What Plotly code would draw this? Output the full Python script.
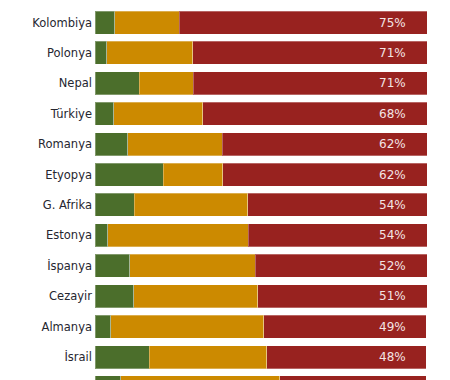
import plotly.graph_objects as go

countries = ["Kolombiya", "Polonya", "Nepal", "Türkiye", "Romanya", "Etyopya",
             "G. Afrika", "Estonya", "İspanya", "Cezayir", "Almanya", "İsrail", "Diğer"]
green = [6, 3.6, 13.3, 5.7, 9.9, 20.5, 11.8, 3.9, 10.5, 11.6, 4.8, 16.3, 7.8]
orange = [19.3, 25.9, 16.3, 26.8, 28.5, 18, 34.2, 42.2, 37.7, 37.4, 46, 35.5, 47.9]
red = [75, 71, 71, 68, 62, 62, 54, 54, 52, 51, 49, 48, 44]
red_labels = [f"{v}%" for v in red]

C_GREEN = "#4b6e2b"
C_ORANGE = "#cc8a00"
C_RED = "#98221f"

fig = go.Figure()
for vals, col in [(green, C_GREEN), (orange, C_ORANGE), (red, C_RED)]:
    fig.add_trace(go.Bar(
        y=countries, x=vals, orientation="h",
        marker=dict(color=col, line=dict(color="rgba(255,255,255,0.3)", width=1)),
        hoverinfo="skip", showlegend=False,
    ))

for c, lab in zip(countries, red_labels):
    fig.add_annotation(
        xref="paper", x=1, y=c, text=lab, showarrow=False,
        xanchor="right", xshift=-19,
        font=dict(family="DejaVu Sans", size=12, color="#f3e4e4"),
    )

fig.update_layout(
    width=442, height=372,
    margin=dict(l=87, r=23, t=0, b=0),
    barmode="stack", bargap=0.244,
    plot_bgcolor="white", paper_bgcolor="white",
    xaxis=dict(range=[0, 100], visible=False, fixedrange=True),
    yaxis=dict(type="category", categoryorder="array", categoryarray=countries,
               range=[11.756, -0.477], showgrid=False, zeroline=False, showline=False,
               ticks="", ticklabelstandoff=2, automargin=False,
               tickfont=dict(family="DejaVu Sans", size=11.5, color="#262630")),
)

fig.write_html("out.html")
